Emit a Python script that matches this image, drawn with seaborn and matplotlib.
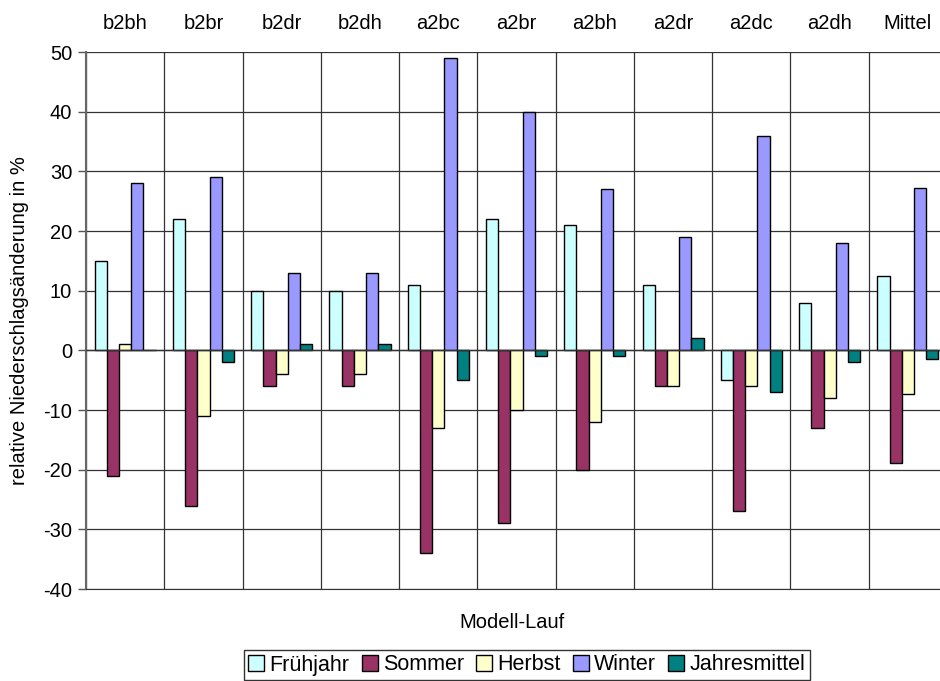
import matplotlib
matplotlib.use("Agg")
import matplotlib.pyplot as plt
import seaborn as sns
import pandas as pd
import numpy as np

categories = ["b2bh", "b2br", "b2dr", "b2dh", "a2bc", "a2br", "a2bh", "a2dr", "a2dc", "a2dh", "Mittel"]
fruehjahr = [15, 22, 10, 10, 11, 22, 21, 11, -5, 8, 12.5]
sommer = [-21, -26, -6, -6, -34, -29, -20, -6, -27, -13, -18.8]
herbst = [1, -11, -4, -4, -13, -10, -12, -6, -6, -8, -7.3]
winter = [28, 29, 13, 13, 49, 40, 27, 19, 36, 18, 27.2]
jahresmittel = [0, -2, 1, 1, -5, -1, -1, 2, -7, -2, -1.4]
series_names = ["Frühjahr", "Sommer", "Herbst", "Winter", "Jahresmittel"]
colors = ["#CCFFFF", "#993366", "#FFFFCC", "#9999FF", "#008080"]

series = [fruehjahr, sommer, herbst, winter, jahresmittel]
rows = []
for name, vals in zip(series_names, series):
    for c, v in zip(categories, vals):
        rows.append({"Lauf": c, "Serie": name, "Wert": v})
df = pd.DataFrame(rows)

sns.set_style("white")
plt.rcParams["font.family"] = ["Liberation Sans", "DejaVu Sans"]
plt.rcParams["axes.unicode_minus"] = False
plt.rcParams["text.color"] = "black"
plt.rcParams["axes.labelcolor"] = "black"
plt.rcParams["xtick.color"] = "black"
plt.rcParams["ytick.color"] = "black"

FS = 14.5

fig = plt.figure(figsize=(9.4, 6.81), dpi=100)
ax = fig.add_axes([0.0915, 0.135, 1.0075 - 0.0915, 0.9236 - 0.135])

sns.barplot(data=df, x="Lauf", y="Wert", hue="Serie", order=categories,
            hue_order=series_names, palette=colors, width=0.78,
            edgecolor="black", linewidth=1.0, ax=ax, legend=True, saturation=1)

ax.set_ylim(-40, 50)
ax.set_xlim(-0.5, len(categories) - 0.5)
ax.set_yticks(np.arange(-40, 51, 10))
ax.tick_params(axis="y", labelsize=FS, length=6, width=1.0, color="#555555",
               direction="out", left=True, pad=4)
ax.xaxis.tick_top()
ax.tick_params(axis="x", which="major", labelsize=FS, length=0, pad=14)
ax.tick_params(axis="x", which="minor", length=0)
ax.set_xticks(np.arange(-0.5, len(categories), 1.0), minor=True)
ax.grid(True, which="minor", axis="x", color="#333333", linewidth=0.9)
ax.grid(True, which="major", axis="y", color="#333333", linewidth=0.9)
ax.grid(False, which="major", axis="x")
ax.axhline(0, color="#333333", linewidth=1.0, zorder=3)
for s in ax.spines.values():
    s.set_visible(False)
ax.spines["left"].set_visible(True)
ax.spines["left"].set_color("#666666")
ax.spines["left"].set_linewidth(1.5)
ax.spines["bottom"].set_visible(True)
ax.spines["bottom"].set_color("#333333")
ax.set_axisbelow(True)

ax.set_ylabel("relative Niederschlagsänderung in %", fontsize=FS, labelpad=10)
ax.set_xlabel("")
fig.text(0.545, 1 - 623 / 681, "Modell-Lauf", ha="center", va="center", fontsize=FS)

handles, labels = ax.get_legend_handles_labels()
ax.legend_.remove()
leg = fig.legend(handles, labels, loc="center", bbox_to_anchor=(0.5605, 1 - 665 / 681),
                 ncol=5, fontsize=15.5, frameon=True, fancybox=False,
                 handlelength=0.75, handleheight=0.75, handletextpad=0.25,
                 columnspacing=0.55, borderpad=0.2, borderaxespad=0)
leg.get_frame().set_edgecolor("black")
leg.get_frame().set_linewidth(1.0)

fig.savefig("out.png", dpi=100)
